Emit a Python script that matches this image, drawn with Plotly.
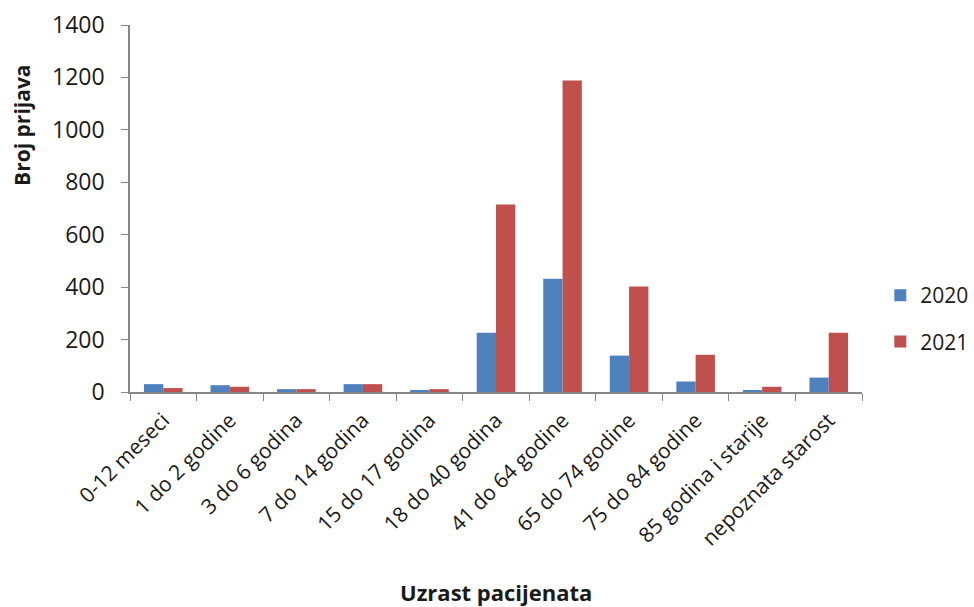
import plotly.graph_objects as go

categories = [
    "0-12 meseci", "1 do 2 godine", "3 do 6 godina", "7 do 14 godina",
    "15 do 17 godina", "18 do 40 godina", "41 do 64 godine", "65 do 74 godine",
    "75 do 84 godine", "85 godina i starije", "nepoznata starost",
]
values_2020 = [30, 26, 11, 30, 6, 226, 432, 139, 40, 6, 55]
values_2021 = [15, 20, 11, 30, 11, 715, 1188, 402, 142, 20, 226]

y_ticks = [0, 200, 400, 600, 800, 1000, 1200, 1400]

FONT = "Open Sans"
AXIS_COLOR = "#868686"

fig = go.Figure()
fig.add_trace(go.Bar(name="2020", x=categories, y=values_2020,
                     marker=dict(color="#4F81BD", line=dict(width=0)),
                     legendgroup="a"))
fig.add_trace(go.Bar(name="2021", x=categories, y=values_2021,
                     marker=dict(color="#C0504D", line=dict(width=0)),
                     legendgroup="b"))

fig.update_layout(
    width=974, height=607,
    margin=dict(l=130, r=112, t=25, b=215, autoexpand=False),
    paper_bgcolor="white", plot_bgcolor="white",
    barmode="group", bargap=0.42, bargroupgap=0,
    font=dict(family=FONT, color="#1a1a1a", size=20),
    showlegend=True,
    legend=dict(x=1.025, y=0.2, xanchor="left", yanchor="middle",
                font=dict(size=21), tracegroupgap=16,
                traceorder="grouped", itemwidth=30),
    xaxis=dict(
        type="category", tickangle=-45, tickson="boundaries",
        ticks="outside", ticklen=7, tickcolor=AXIS_COLOR,
        showline=True, linecolor=AXIS_COLOR, linewidth=1.5,
        showgrid=False, tickfont=dict(size=21), ticklabelstandoff=6,
        automargin=False,
    ),
    yaxis=dict(
        range=[0, 1400], tickvals=y_ticks,
        ticks="outside", ticklen=7, tickcolor=AXIS_COLOR,
        showline=True, linecolor=AXIS_COLOR, linewidth=1.5,
        showgrid=False, zeroline=False, tickfont=dict(size=23),
        ticklabelstandoff=12,
        automargin=False,
    ),
    annotations=[
        dict(text="<b>Uzrast pacijenata</b>", xref="paper", yref="paper",
             x=0.5, y=-0.546, xanchor="center", yanchor="middle",
             showarrow=False, font=dict(size=22)),
        dict(text="<b>Broj prijava</b>", xref="paper", yref="paper",
             x=-0.1475, y=0.725, xanchor="center", yanchor="middle",
             textangle=-90, showarrow=False, font=dict(size=21)),
    ],
)

fig.write_html("out.html")
